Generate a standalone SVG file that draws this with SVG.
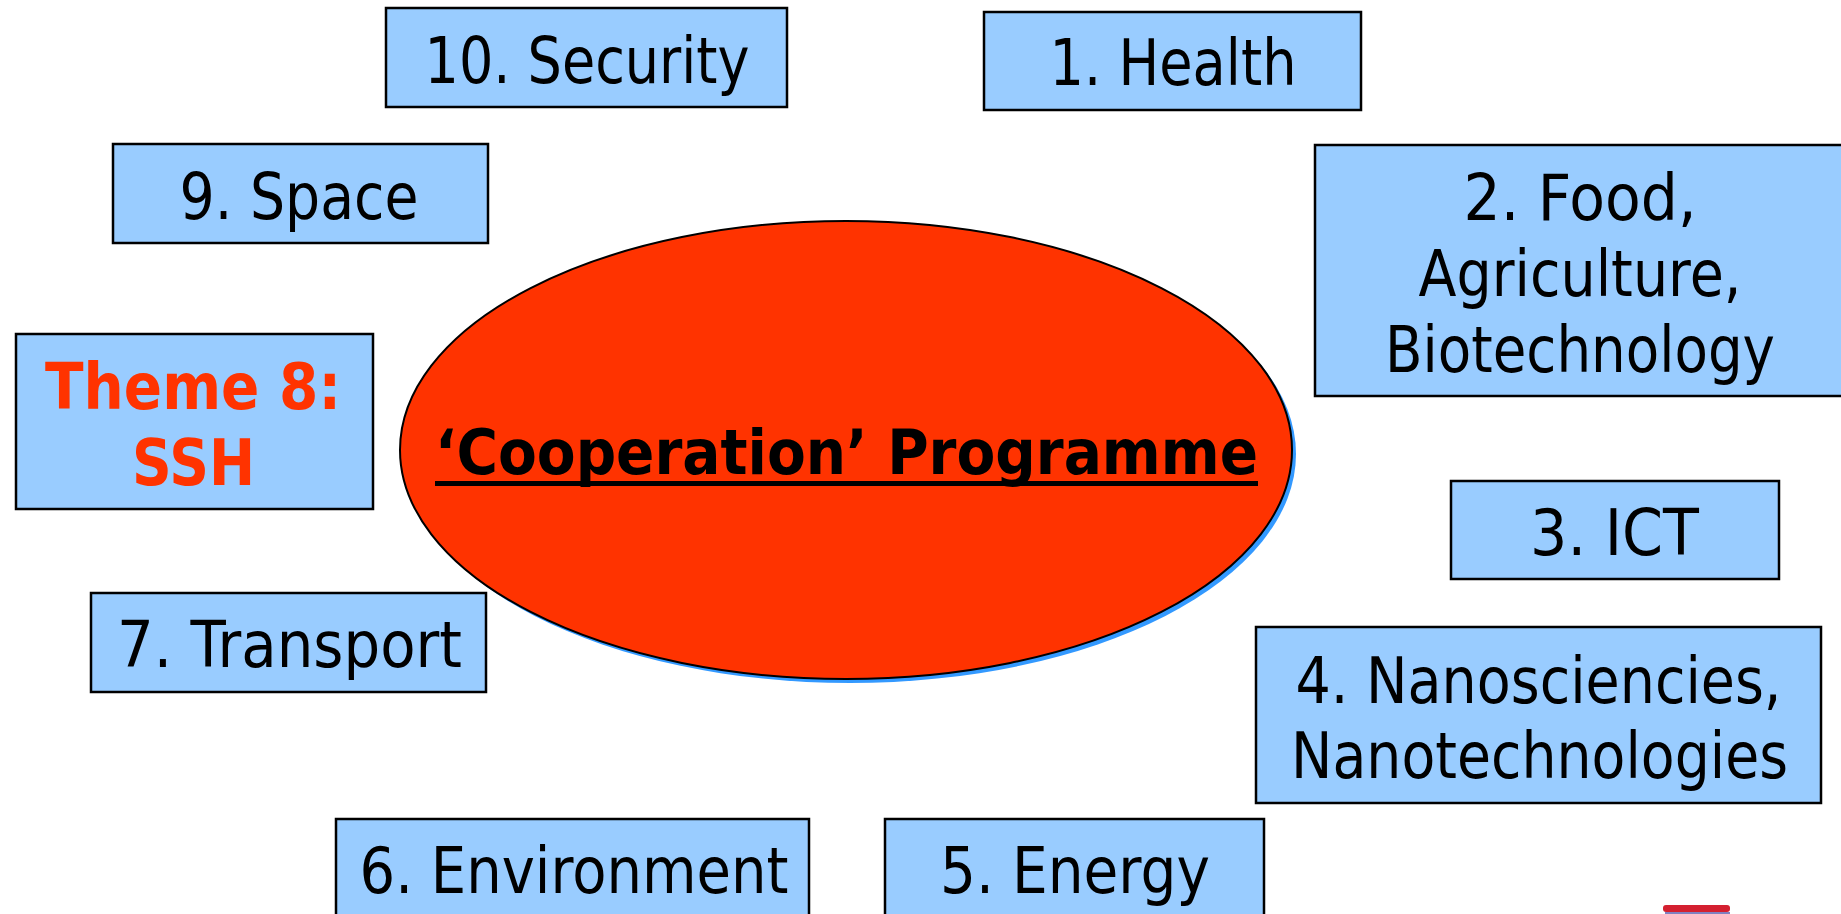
<svg xmlns="http://www.w3.org/2000/svg" width="1841" height="914" viewBox="0 0 1841 914">
  <style>
    .box { fill: #99CCFF; stroke: #000000; stroke-width: 2.5; }
    .lbl { font-family: "DejaVu Sans", "Liberation Sans", sans-serif; font-size: 64px; fill: #000000; text-anchor: middle; }
    .ssh { font-family: "DejaVu Sans", "Liberation Sans", sans-serif; font-size: 64px; font-weight: bold; fill: #FF3300; text-anchor: middle; }
    .title { font-family: "DejaVu Sans", "Liberation Sans", sans-serif; font-size: 62px; font-weight: bold; fill: #000000; text-anchor: middle; }
  </style>
  <rect width="1841" height="914" fill="#FFFFFF"/>

  <g id="center">
    <ellipse cx="850" cy="454" rx="446" ry="229" fill="#3399FF"/>
    <ellipse cx="846" cy="450" rx="446" ry="229" fill="#FF3300" stroke="#000000" stroke-width="2"/>
    <text class="title" x="846.5" y="474" textLength="823" lengthAdjust="spacingAndGlyphs">‘Cooperation’ Programme</text>
    <rect x="435" y="481" width="823" height="5" fill="#000000"/>
  </g>

  <g id="node-10">
    <rect class="box" x="386" y="8" width="401" height="99"/>
    <text class="lbl" x="587" y="83" textLength="325" lengthAdjust="spacingAndGlyphs">10. Security</text>
  </g>

  <g id="node-1">
    <rect class="box" x="984" y="12" width="377" height="98"/>
    <text class="lbl" x="1173" y="85" textLength="247" lengthAdjust="spacingAndGlyphs">1. Health</text>
  </g>

  <g id="node-9">
    <rect class="box" x="113" y="144" width="375" height="99"/>
    <text class="lbl" x="299" y="219" textLength="239" lengthAdjust="spacingAndGlyphs">9. Space</text>
  </g>

  <g id="node-2">
    <rect class="box" x="1315" y="145" width="540" height="251"/>
    <text class="lbl" x="1580" y="220" textLength="233" lengthAdjust="spacingAndGlyphs">2. Food,</text>
    <text class="lbl" x="1580" y="296" textLength="323" lengthAdjust="spacingAndGlyphs">Agriculture,</text>
    <text class="lbl" x="1580" y="372" textLength="390" lengthAdjust="spacingAndGlyphs">Biotechnology</text>
  </g>

  <g id="node-8">
    <rect class="box" x="16" y="334" width="357" height="175"/>
    <text class="ssh" x="193" y="409" textLength="296" lengthAdjust="spacingAndGlyphs">Theme 8:</text>
    <text class="ssh" x="193.5" y="485" textLength="123" lengthAdjust="spacingAndGlyphs">SSH</text>
  </g>

  <g id="node-3">
    <rect class="box" x="1451" y="481" width="328" height="98"/>
    <text class="lbl" x="1614.5" y="555" textLength="169" lengthAdjust="spacingAndGlyphs">3. ICT</text>
  </g>

  <g id="node-7">
    <rect class="box" x="91" y="593" width="395" height="99"/>
    <text class="lbl" x="289.5" y="667" textLength="345" lengthAdjust="spacingAndGlyphs">7. Transport</text>
  </g>

  <g id="node-4">
    <rect class="box" x="1256" y="627" width="565" height="176"/>
    <text class="lbl" x="1538.5" y="703" textLength="486" lengthAdjust="spacingAndGlyphs">4. Nanosciencies,</text>
    <text class="lbl" x="1539.5" y="778" textLength="497" lengthAdjust="spacingAndGlyphs">Nanotechnologies</text>
  </g>

  <g id="node-6">
    <rect class="box" x="336" y="819" width="473" height="110"/>
    <text class="lbl" x="574" y="893" textLength="429" lengthAdjust="spacingAndGlyphs">6. Environment</text>
  </g>

  <g id="node-5">
    <rect class="box" x="885" y="819" width="379" height="110"/>
    <text class="lbl" x="1075" y="893" textLength="270" lengthAdjust="spacingAndGlyphs">5. Energy</text>
  </g>

  <g id="logo-fragment">
    <rect x="1663" y="905" width="67" height="7" rx="3" fill="#D42030"/>
    <rect x="1665" y="912" width="65" height="2" fill="#8080C0"/>
  </g>
</svg>
